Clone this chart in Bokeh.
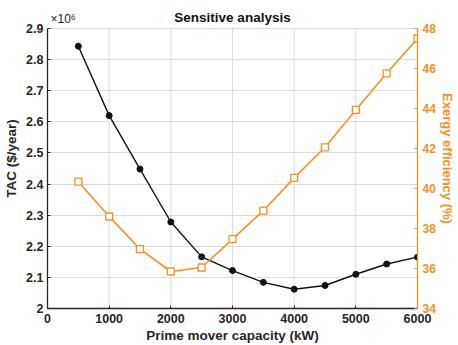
from bokeh.plotting import figure
from bokeh.models import Range1d, LinearAxis, FixedTicker, Label
from bokeh.embed import file_html
from bokeh.resources import INLINE

capacity = [500, 1000, 1500, 2000, 2500, 3000, 3500, 4000, 4500, 5000, 5500, 6000]
tac = [2.843, 2.620, 2.448, 2.278, 2.166, 2.122, 2.084, 2.062, 2.074, 2.110, 2.143, 2.165]  # x10^6 $/year
exergy = [40.34, 38.6, 36.97, 35.85, 36.05, 37.47, 38.89, 40.53, 42.06, 43.93, 45.76, 47.5]
x_ticks = [0, 1000, 2000, 3000, 4000, 5000, 6000]
left_ticks = [2.0, 2.1, 2.2, 2.3, 2.4, 2.5, 2.6, 2.7, 2.8, 2.9]
right_ticks = [34, 36, 38, 40, 42, 44, 46, 48]

ORANGE = "#F7901E"
DARK = "#262626"
FONT = "Liberation Sans"

# frame extended 20px above the data area to host the title
p = figure(frame_width=370, frame_height=300, output_backend="svg", toolbar_location=None,
           x_range=Range1d(0, 6000), y_range=Range1d(2.0, 2.9 + 0.9 * 20 / 280),
           min_border_left=47, min_border_top=8, min_border_right=2, min_border_bottom=2)
p.outline_line_color = None
p.background_fill_color = "white"
p.border_fill_color = "white"

p.extra_y_ranges = {"right": Range1d(34, 48 + 14 * 20 / 280)}

for ax in [p.xaxis[0], p.yaxis[0]]:
    ax.axis_line_color = DARK
    ax.axis_line_width = 1.3
    ax.major_tick_line_color = DARK
    ax.major_tick_in = 3
    ax.major_tick_out = 0
    ax.minor_tick_line_color = None
    ax.major_label_text_font = FONT
    ax.major_label_text_font_style = "bold"
    ax.major_label_text_font_size = "12.5px"
    ax.major_label_text_color = DARK
    ax.axis_label_text_font = FONT
    ax.axis_label_text_font_style = "bold"
    ax.axis_label_text_font_size = "13.5px"
    ax.axis_label_text_color = DARK

p.xaxis.ticker = FixedTicker(ticks=x_ticks)
p.xaxis.axis_label = "Prime mover capacity (kW)"
p.xaxis.axis_label_standoff = 2
p.xaxis.major_label_standoff = 5
p.yaxis.ticker = FixedTicker(ticks=left_ticks)
p.yaxis.bounds = (left_ticks[0], left_ticks[-1])
p.yaxis.major_label_overrides = {2.0: "2"}
p.yaxis.axis_label = "TAC ($/year)"
p.yaxis.axis_label_standoff = 4
p.yaxis.major_label_standoff = 4

r_ax = LinearAxis(y_range_name="right", ticker=FixedTicker(ticks=right_ticks),
                  axis_label="Exergy efficiency (%)", bounds=(right_ticks[0], right_ticks[-1]))
r_ax.axis_line_color = ORANGE
r_ax.axis_line_width = 1.3
r_ax.major_tick_line_color = ORANGE
r_ax.major_tick_in = 3
r_ax.major_tick_out = 0
r_ax.minor_tick_line_color = None
r_ax.major_label_text_font = FONT
r_ax.major_label_text_font_style = "bold"
r_ax.major_label_text_font_size = "12px"
r_ax.major_label_text_color = ORANGE
r_ax.axis_label_text_font = FONT
r_ax.axis_label_text_font_style = "bold"
r_ax.axis_label_text_font_size = "13px"
r_ax.axis_label_text_color = ORANGE
r_ax.axis_label_standoff = 1
r_ax.major_label_standoff = 5
p.add_layout(r_ax, "right")

p.xgrid.visible = False
p.ygrid.ticker = FixedTicker(ticks=left_ticks)
p.ygrid.grid_line_color = "#DCDCDC"
p.ygrid.grid_line_width = 1
# vertical grid lines limited to the data area
p.segment(x0=x_ticks, y0=[left_ticks[0]] * len(x_ticks), x1=x_ticks, y1=[left_ticks[-1]] * len(x_ticks),
          line_color="#DCDCDC", line_width=1, level="underlay")

p.line(capacity, tac, line_color="#111111", line_width=1.4)
p.scatter(capacity, tac, marker="circle", size=6, fill_color="#111111", line_color="#111111")

p.line(capacity, exergy, line_color=ORANGE, line_width=1.6, y_range_name="right")
p.scatter(capacity, exergy, marker="square", size=7, fill_color="white", line_color=ORANGE,
          line_width=1.3, y_range_name="right")

p.add_layout(Label(x=3000, y=left_ticks[-1], y_offset=4, text="Sensitive analysis",
                   text_font=FONT, text_font_style="bold", text_font_size="13.5px",
                   text_color="#111111", text_align="center", text_baseline="bottom"))
p.add_layout(Label(x=0, y=left_ticks[-1], y_offset=3, x_offset=3, text="×10⁶",
                   text_font=FONT, text_font_size="12px",
                   text_color=DARK, text_align="left", text_baseline="bottom"))

open("out.html", "w").write(file_html(p, INLINE))
